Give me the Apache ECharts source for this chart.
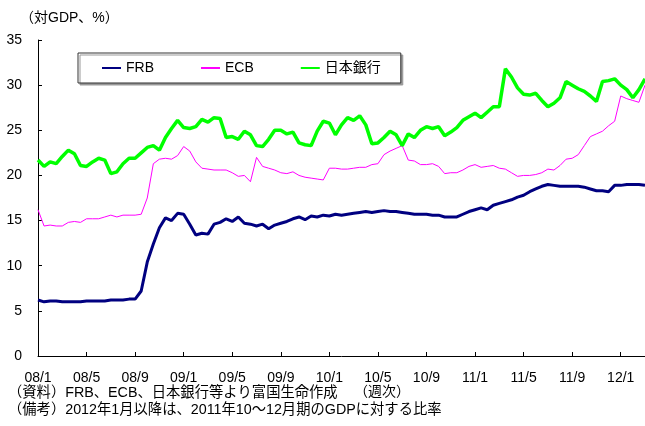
<!DOCTYPE html>
<html>
<head>
<meta charset="utf-8">
<script src="https://cdn.jsdelivr.net/npm/echarts@6/dist/echarts.min.js"></script>
<style>
  html, body { margin: 0; padding: 0; background: #fff; }
  #myChart { width: 645px; height: 426px; }
</style>
</head>
<body>
<div id="myChart"></div>
<script>
  // 半月ごとの値（08/1〜12/2）、対GDP %
  var frb = [
    6.2, 6.0, 6.1, 6.1, 6.0, 6.0, 6.0, 6.0, 6.1, 6.1, 6.1, 6.1, 6.2, 6.2, 6.2, 6.3, 6.3,
    7.2, 10.4, 12.4, 14.2, 15.3, 15.0, 15.8, 15.7, 14.6, 13.4, 13.6, 13.5, 14.6, 14.8, 15.2, 14.9, 15.4,
    14.7, 14.6, 14.4, 14.6, 14.1, 14.5, 14.7, 14.9, 15.2, 15.4, 15.1, 15.5, 15.4, 15.6, 15.5,
    15.7, 15.6, 15.7, 15.8, 15.9, 16.0, 15.9, 16.0, 16.1, 16.0, 16.0, 15.9, 15.8, 15.7, 15.7, 15.7, 15.6,
    15.6, 15.4, 15.4, 15.4, 15.7, 16.0, 16.2, 16.4, 16.2, 16.7, 16.9, 17.1, 17.3, 17.6, 17.8, 18.2,
    18.5, 18.8, 19.0, 18.9, 18.8, 18.8, 18.8, 18.8, 18.7, 18.5, 18.3, 18.3, 18.2, 18.9, 18.9, 19.0, 19.0, 19.0, 18.9
  ];
  var ecb = [
    16.2, 14.4, 14.5, 14.4, 14.4, 14.8, 14.9, 14.8, 15.2, 15.2, 15.2, 15.4, 15.6, 15.4, 15.6, 15.6, 15.6,
    15.7, 17.5, 21.3, 21.8, 21.9, 21.8, 22.2, 23.2, 22.7, 21.5, 20.8, 20.7, 20.6, 20.6, 20.6, 20.3, 19.9,
    20.0, 19.3, 22.0, 21.0, 20.8, 20.6, 20.3, 20.2, 20.4, 20.0, 19.8, 19.7, 19.6, 19.5, 20.8,
    20.8, 20.7, 20.7, 20.8, 20.9, 20.9, 21.2, 21.3, 22.3, 22.7, 23.0, 23.3, 21.7, 21.6, 21.2, 21.2, 21.3,
    21.0, 20.2, 20.3, 20.3, 20.6, 21.0, 21.2, 20.9, 21.0, 21.1, 20.8, 20.7, 20.3, 19.9, 20.0, 20.0,
    20.1, 20.3, 20.7, 20.6, 21.1, 21.8, 21.9, 22.3, 23.3, 24.3, 24.6, 24.9, 25.5, 26.0, 28.8, 28.5, 28.3, 28.1, 30.0
  ];
  var boj = [
    21.7, 21.0, 21.5, 21.3, 22.1, 22.8, 22.4, 21.1, 21.0, 21.5, 21.9, 21.7, 20.2, 20.4, 21.3, 21.9, 21.9,
    22.5, 23.1, 23.3, 22.8, 24.2, 25.2, 26.1, 25.3, 25.2, 25.4, 26.2, 25.9, 26.4, 26.3, 24.2, 24.3, 24.0,
    24.9, 24.5, 23.3, 23.2, 24.0, 25.0, 25.0, 24.6, 24.8, 23.6, 23.4, 23.3, 24.9, 26.0, 25.8,
    24.5, 25.6, 26.4, 26.1, 26.6, 25.6, 23.5, 23.6, 24.2, 24.9, 24.5, 23.3, 24.6, 24.2, 25.0, 25.4, 25.2,
    25.4, 24.4, 24.8, 25.3, 26.1, 26.5, 26.9, 26.4, 27.0, 27.6, 27.6, 31.8, 30.9, 29.7, 29.0, 28.9,
    29.1, 28.3, 27.6, 28.0, 28.6, 30.4, 30.0, 29.6, 29.3, 28.8, 28.2, 30.4, 30.5, 30.7, 30.0, 29.5, 28.6, 29.5, 30.7
  ];
  // 軸ラベル（4か月ごと）
  var tickLabels = ['08/1', '08/5', '08/9', '09/1', '09/5', '09/9', '10/1', '10/5', '10/9', '11/1', '11/5', '11/9', '12/1'];
  var seriesNames = ['FRB', 'ECB', '日本銀行'];

  // 半月ごとのカテゴリ
  var categories = [];
  for (var i = 0; i < frb.length; i++) {
    var y = 2008 + Math.floor(i / 24);
    var m = Math.floor((i % 24) / 2) + 1;
    categories.push(y + '/' + m + (i % 2 === 0 ? '前半' : '後半'));
  }

  var fontFamily = '"Liberation Sans", "Noto Sans CJK JP", sans-serif';
  var myChart = echarts.init(document.getElementById('myChart'));
  myChart.setOption({
    animation: false,
    textStyle: { fontFamily: fontFamily, color: '#000' },
    grid: {
      left: 38,
      right: 0,
      top: 40,
      bottom: 70
    },
    legend: {
      data: seriesNames,
      left: 78,
      top: 53,
      orient: 'horizontal',
      padding: [8, 20, 8, 23],
      itemWidth: 19,
      itemHeight: 12,
      itemGap: 46,
      //凡例は線のみ（丸を消す）
      itemStyle: { opacity: 0 },
      borderColor: '#333',
      borderWidth: 1,
      borderRadius: 0,
      backgroundColor: '#fff',
      shadowColor: '#999',
      shadowOffsetX: 2,
      shadowOffsetY: 2,
      shadowBlur: 0,
      textStyle: { fontSize: 14, color: '#000', fontFamily: fontFamily }
    },
    xAxis: {
      type: 'category',
      data: categories,
      boundaryGap: false,
      axisLine: { lineStyle: { color: '#000', width: 1 } },
      axisTick: {
        inside: true,
        length: 4,
        interval: 7,
        lineStyle: { color: '#000' }
      },
      axisLabel: {
        interval: 7,
        margin: 15,
        fontSize: 14,
        color: '#000',
        formatter: function (value, index) {
          return tickLabels[index / 8] || '';
        }
      },
      splitLine: { show: false }
    },
    yAxis: {
      type: 'value',
      min: 0,
      max: 35,
      interval: 5,
      axisLine: { show: true, lineStyle: { color: '#000', width: 1 } },
      axisTick: { show: true, inside: true, length: 4, lineStyle: { color: '#000' } },
      axisLabel: { margin: 16, fontSize: 14, color: '#000' },
      splitLine: { show: false }
    },
    graphic: [
      {
        type: 'text', left: 20, top: 11,
        style: { text: '（対GDP、%）', fontSize: 14, fill: '#000', fontFamily: fontFamily }
      },
      {
        type: 'text', left: 354, top: 385,
        style: { text: '（週次）', fontSize: 14, fill: '#000', fontFamily: fontFamily }
      },
      {
        type: 'text', left: 8, top: 386,
        style: { text: '（資料）FRB、ECB、日本銀行等より富国生命作成', fontSize: 14.3, fill: '#000', fontFamily: fontFamily }
      },
      {
        type: 'text', left: 8, top: 403,
        style: { text: '（備考）2012年1月以降は、2011年10～12月期のGDPに対する比率', fontSize: 14.3, fill: '#000', fontFamily: fontFamily }
      }
    ],
    series: [
      {
        name: 'FRB',
        type: 'line',
        data: frb,
        symbol: 'none',
        lineStyle: { color: '#000080', width: 3 },
        itemStyle: { color: '#000080' }
      },
      {
        name: 'ECB',
        type: 'line',
        data: ecb,
        symbol: 'none',
        lineStyle: { color: '#ff00ff', width: 1 },
        itemStyle: { color: '#ff00ff' }
      },
      {
        name: '日本銀行',
        type: 'line',
        data: boj,
        symbol: 'none',
        lineStyle: { color: '#00ff00', width: 3.5 },
        itemStyle: { color: '#00ff00' }
      }
    ]
  });
</script>
</body>
</html>
